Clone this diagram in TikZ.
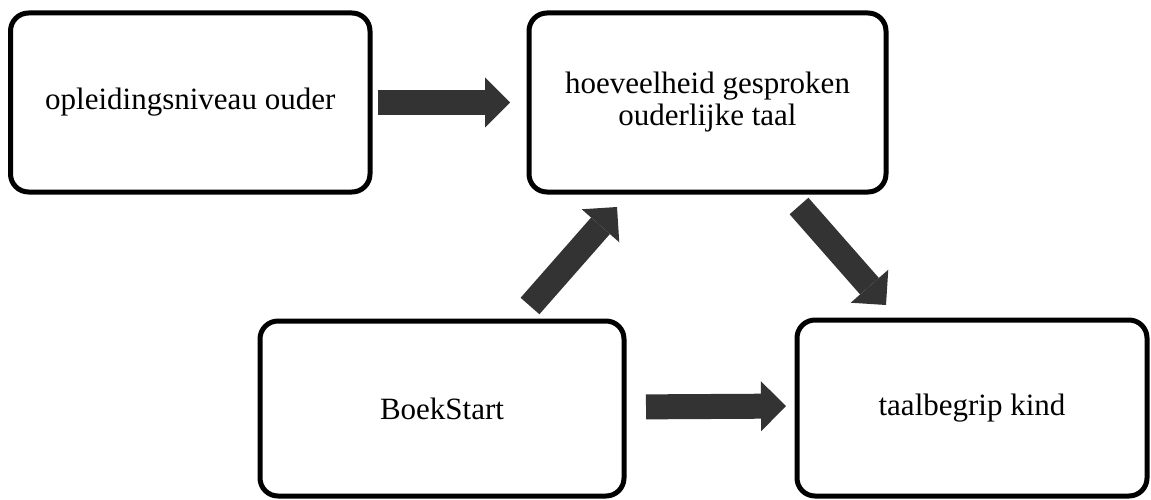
\documentclass[tikz,border=0pt]{standalone}
\usepackage{fontspec}
\setmainfont{Liberation Serif}
\usetikzlibrary{arrows.meta}
\definecolor{arrowgray}{RGB}{51,51,51}
\tikzset{
  box/.style={draw=black, line width=5pt, rounded corners=18pt, outer sep=0pt,
    align=center, font=\fontsize{31}{32}\selectfont, inner sep=0pt},
  blockarrow/.style={draw=arrowgray, line width=25pt, line cap=butt,
    -{Triangle[length=25pt, width=50pt, line width=0pt]}}
}
\begin{document}
\begin{tikzpicture}[x=1pt, y=-1pt]
\useasboundingbox (0,0) rectangle (1151,500);
\node[box, minimum width=359.5pt, minimum height=179pt] (n1) at (190.25,102.5) {opleidingsniveau ouder};
\node[box, minimum width=357pt, minimum height=179pt] (n2) at (707.5,102.5) {hoeveelheid gesproken\\ouderlijke taal};
\node[box, minimum width=364pt, minimum height=175pt] (n3) at (442,408.5) {BoekStart};
\node[box, minimum width=350pt, minimum height=176pt] (n4) at (972,408) {taalbegrip kind};
\coordinate (u1) at (530,306);
\coordinate (u2) at (617,207);
\coordinate (d1) at (799,206);
\coordinate (d2) at (886,305);
\draw[blockarrow, shorten <=8pt, shorten >=19pt] (n1.east) -- (n2.west);
\draw[blockarrow, shorten <=22pt, shorten >=11pt] ([yshift=1.5pt]n3.east) -- ([yshift=2pt]n4.west);
\draw[blockarrow] (u1) -- (u2);
\draw[blockarrow] (d1) -- (d2);
\end{tikzpicture}
\end{document}
